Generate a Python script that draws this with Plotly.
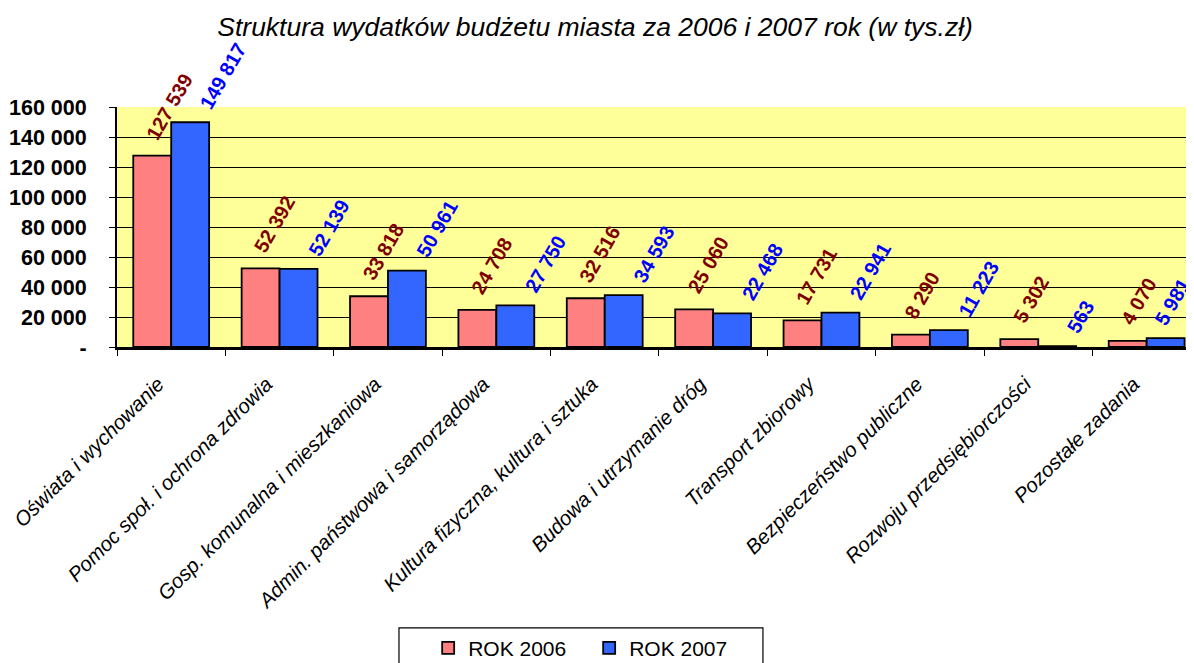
import plotly.graph_objects as go

categories = ["Oświata i wychowanie", "Pomoc społ. i ochrona zdrowia",
              "Gosp. komunalna i mieszkaniowa", "Admin. państwowa i samorządowa",
              "Kultura fizyczna, kultura i sztuka", "Budowa i utrzymanie dróg",
              "Transport zbiorowy", "Bezpieczeństwo publiczne",
              "Rozwoju przedsiębiorczości", "Pozostałe zadania"]
rok2006 = [127539, 52392, 33818, 24708, 32516, 25060, 17731, 8290, 5302, 4070]
rok2007 = [149817, 52139, 50961, 27750, 34593, 22468, 22941, 11223, 563, 5981]
y_ticks = [0, 20000, 40000, 60000, 80000, 100000, 120000, 140000, 160000]
y_ticktext = ["-", "20 000", "40 000", "60 000", "80 000", "100 000", "120 000", "140 000", "160 000"]

def fmt(v):
    return f"{v:,}".replace(",", " ")

FONT = "Liberation Sans, Arial, sans-serif"

fig = go.Figure()
fig.add_trace(go.Bar(x=categories, y=rok2006, name="ROK 2006",
                     marker=dict(color="#FF8080", line=dict(color="black", width=1.8))))
fig.add_trace(go.Bar(x=categories, y=rok2007, name="ROK 2007",
                     marker=dict(color="#3366FF", line=dict(color="black", width=1.8))))

annotations = []
for series, color, xs, ys in [(rok2006, "#800000", -31, 11), (rok2007, "#0000FF", 23, 8)]:
    for i, (c, v) in enumerate(zip(categories, series)):
        shift = xs
        # keep the right-most label inside the chart area (as Excel does)
        if i == len(categories) - 1 and xs > 0:
            shift = 2
        annotations.append(dict(x=c, y=v, xref="x", yref="y", text=fmt(v), showarrow=False,
                                textangle=-60, xanchor="left", yanchor="bottom",
                                xshift=shift, yshift=ys, borderpad=0,
                                font=dict(family=FONT, size=20, color=color, weight="bold")))

# legend frame (the reference frame runs off the bottom edge)
shapes = [dict(type="rect", xref="paper", yref="paper", x0=0.2628, x1=0.602,
               y0=-1.6, y1=-1.170, line=dict(color="black", width=1.2),
               fillcolor="white", layer="below")]

fig.update_layout(
    width=1186, height=655,
    margin=dict(l=109, r=4, t=99, b=316, autoexpand=False),
    paper_bgcolor="white", plot_bgcolor="#FFFF99",
    barmode="group", bargap=0.30, bargroupgap=0,
    title=dict(text="Struktura wydatków budżetu miasta za 2006 i 2007 rok (w tys.zł)",
               x=0.495, xanchor="center", xref="container", y=0.971, yanchor="middle",
               yref="container",
               font=dict(family=FONT, size=26.5, color="black", style="italic")),
    annotations=annotations,
    shapes=shapes,
    showlegend=True,
    legend=dict(orientation="h", x=0.29, xanchor="left", y=-1.17, yanchor="top",
                borderwidth=0, bgcolor="rgba(0,0,0,0)",
                font=dict(family=FONT, size=21, color="black"),
                entrywidth=116, entrywidthmode="pixels"),
    xaxis=dict(type="category", range=[-0.5, 9.4],
               showline=True, linecolor="black", linewidth=3,
               ticks="outside", tickson="boundaries", ticklen=6, tickcolor="black",
               tickangle=-45, ticklabelshift=-13, ticklabelstandoff=14,
               tickfont=dict(family=FONT, size=20.5, color="black", style="italic"),
               showgrid=False, automargin=False),
    yaxis=dict(range=[0, 160000], tickvals=y_ticks, ticktext=y_ticktext,
               showline=True, linecolor="black", linewidth=2, mirror=False,
               ticks="outside", ticklen=6, tickcolor="black",
               showgrid=True, gridcolor="black", gridwidth=1, zeroline=False,
               ticklabelstandoff=18,
               tickfont=dict(family=FONT, size=21.5, color="black", weight="bold"),
               automargin=False),
)

fig.write_html("out.html")
